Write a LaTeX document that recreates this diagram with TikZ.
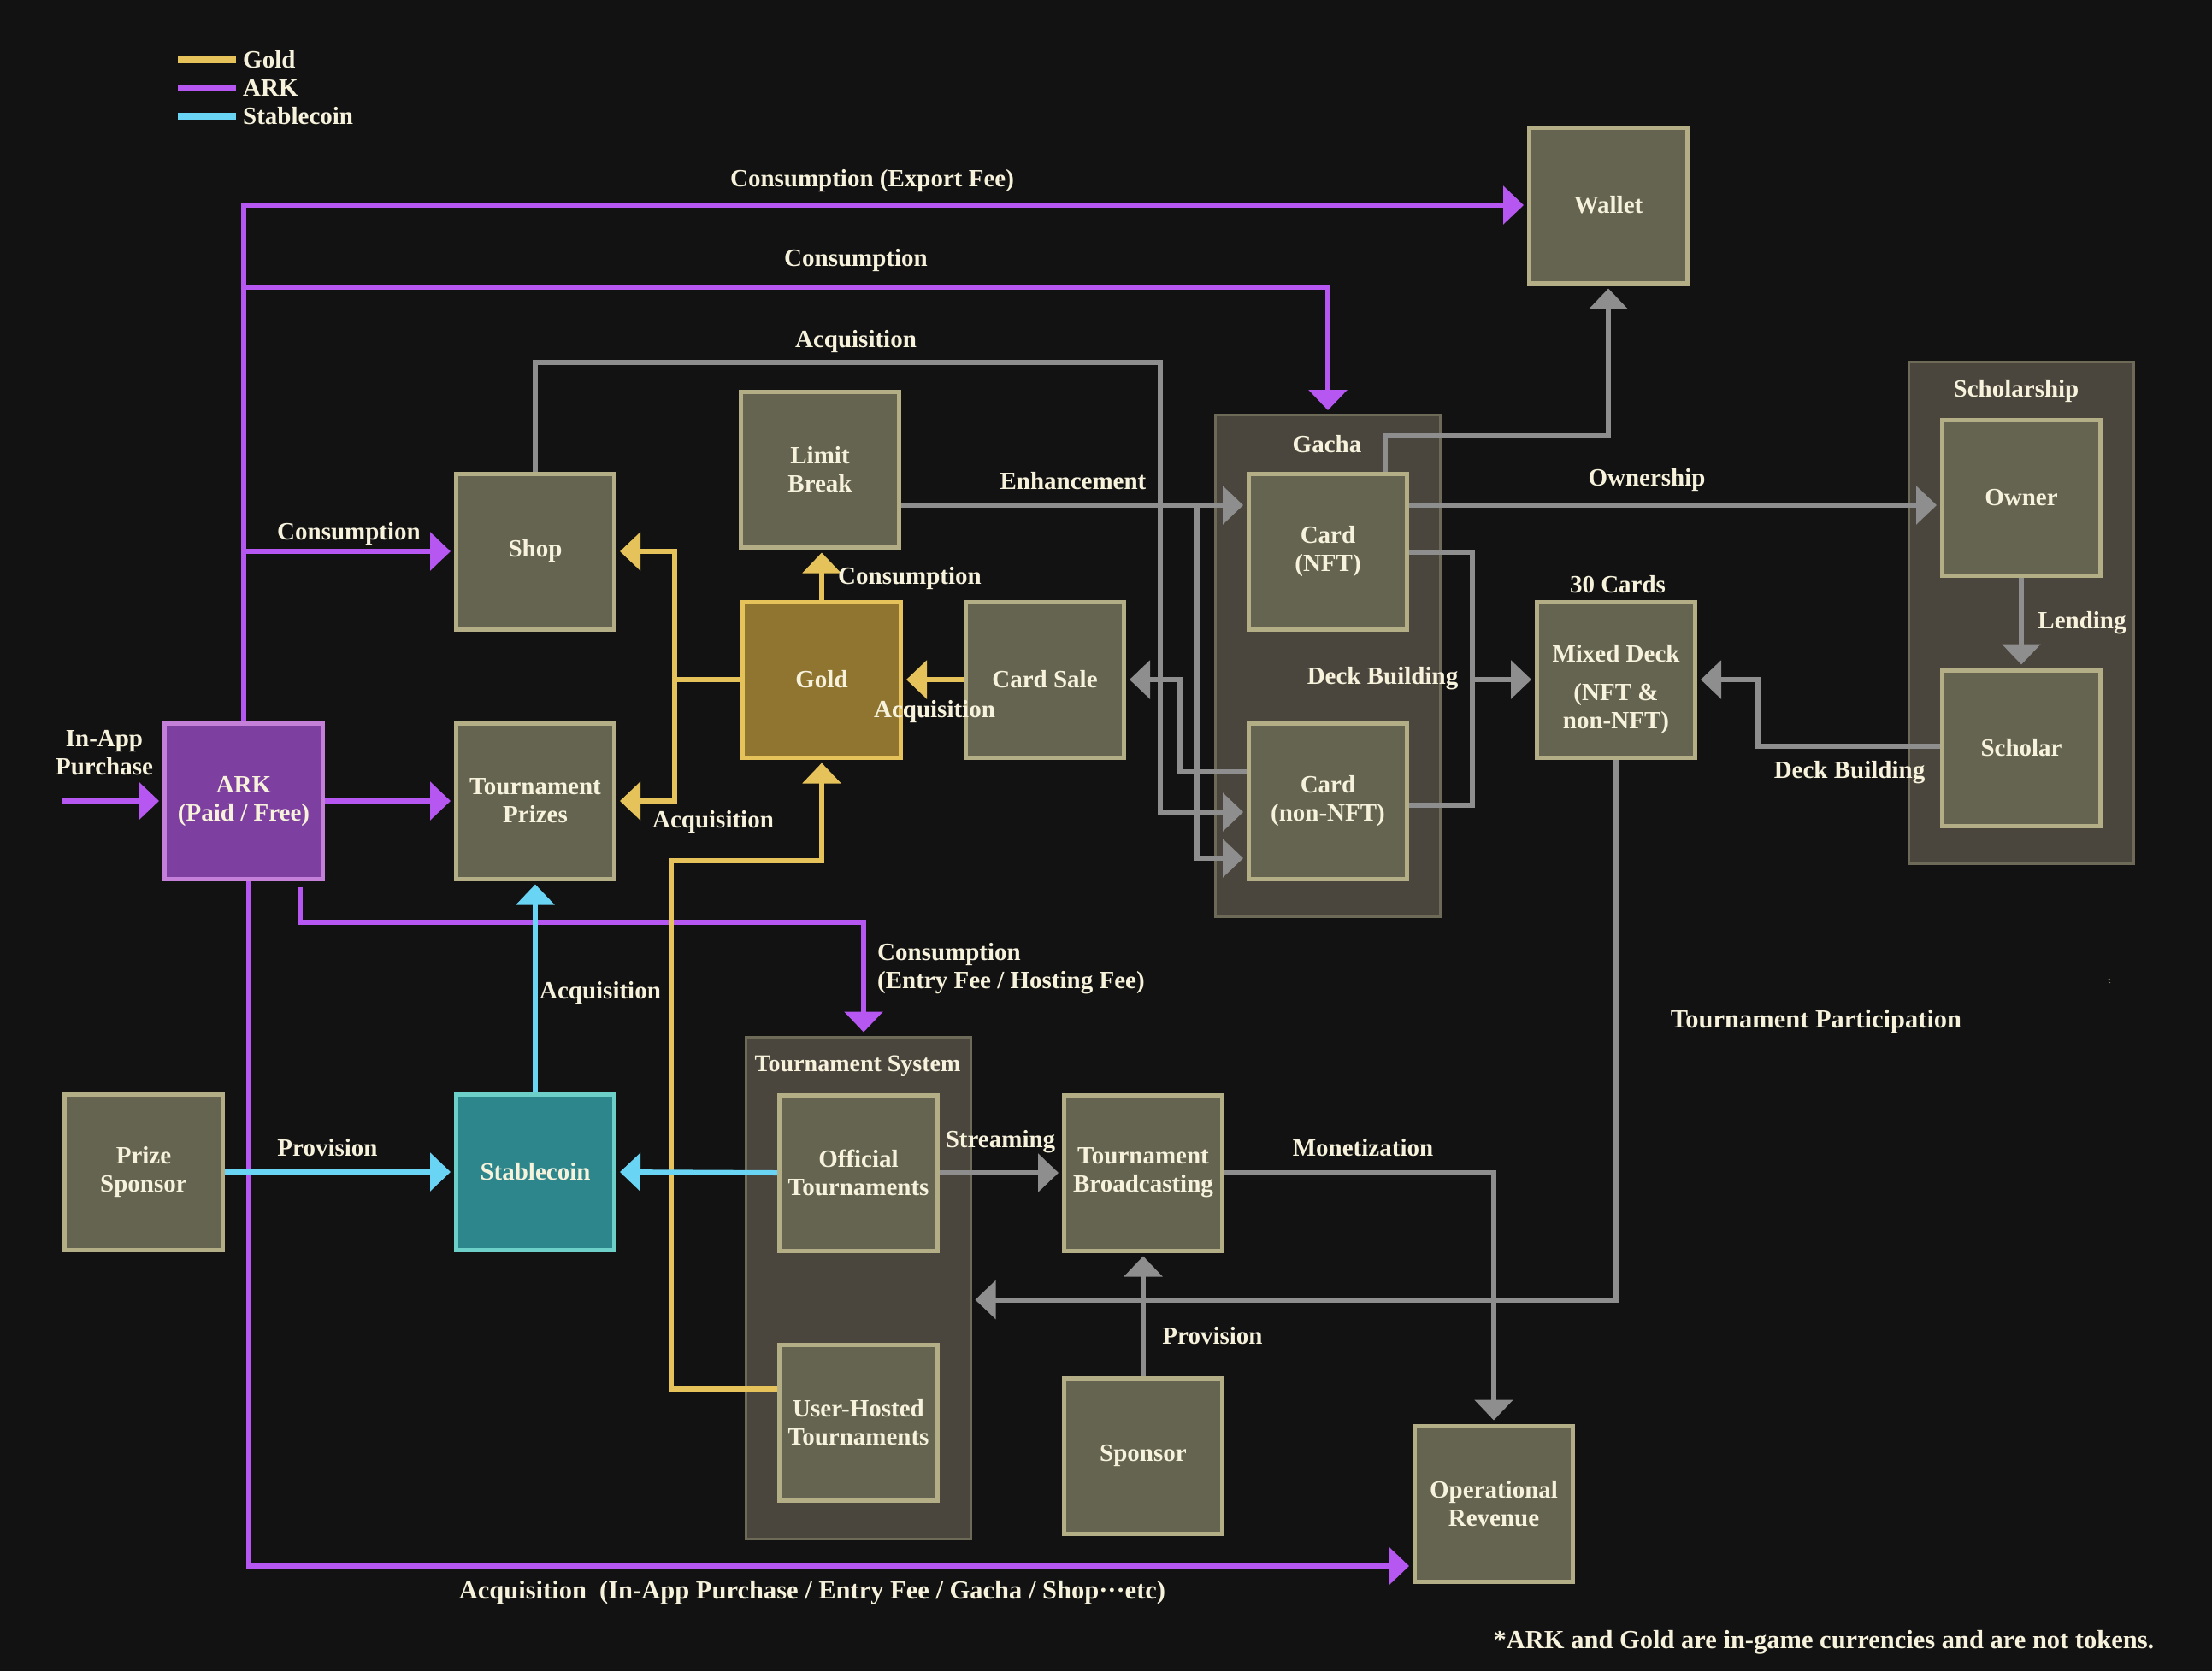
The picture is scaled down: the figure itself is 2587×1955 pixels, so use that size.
\documentclass[tikz,border=0pt]{standalone}
\usepackage{fontspec}
\setmainfont{Liberation Serif}
\usetikzlibrary{arrows.meta}
\definecolor{bg}{HTML}{121212}
\definecolor{pur}{HTML}{B657F2}
\definecolor{gld}{HTML}{E6C35A}
\definecolor{blu}{HTML}{6AD4F5}
\definecolor{gry}{HTML}{8E8E8E}
\definecolor{boxfill}{HTML}{646450}
\definecolor{boxline}{HTML}{B3AE86}
\definecolor{contfill}{HTML}{4A463E}
\definecolor{contline}{HTML}{6E6A58}
\definecolor{txt}{HTML}{F7F2DC}
\definecolor{arkfill}{HTML}{7E40A0}
\definecolor{arkline}{HTML}{C480D8}
\definecolor{goldfill}{HTML}{8F7530}
\definecolor{stabfill}{HTML}{2C868C}
\definecolor{stabline}{HTML}{6CCFC8}
\begin{document}
\begin{tikzpicture}[x=1pt,y=-1pt,
  every node/.style={text=txt, font=\fontsize{29}{33}\selectfont\bfseries},
  box/.style={draw=boxline, fill=boxfill, line width=5pt, minimum width=185pt, minimum height=182pt, inner sep=0pt, align=center},
  arkbox/.style={draw=arkline, fill=arkfill},
  goldbox/.style={draw=gld, fill=goldfill},
  stabbox/.style={draw=stabline, fill=stabfill},
  cont/.style={draw=contline, fill=contfill, line width=3pt, minimum width=263pt, minimum height=587pt, inner sep=0pt},
  lbl/.style={inner sep=0pt, align=center},
  big/.style={font=\fontsize{30.5}{34}\selectfont\bfseries},
  link/.style={line width=6pt},
  tip/.style={-{Triangle[length=24pt,width=44pt]}, shorten >=4pt},
]
\fill[bg] (0,0) rectangle (2587,1955);
\useasboundingbox (0,0) rectangle (2587,1955);

% legend
\draw[gld, line width=8pt] (208,70) -- (276,70);
\draw[pur, line width=8pt] (208,103) -- (276,103);
\draw[blu, line width=8pt] (208,136) -- (276,136);
\node[lbl, anchor=west] (lgold) at (284,70) {Gold};
\node[lbl, anchor=west] (lark) at (284,103) {ARK};
\node[lbl, anchor=west] (lstab) at (284,136) {Stablecoin};

% containers
\node[cont] (gacha) at (1553,779) {};
\node[cont] (scholarship) at (2363.5,716.5) {};
\node[cont] (tsystem) at (1003.5,1506.5) {};
\node[lbl] (tgacha) at (1552,520) {Gacha};
\node[lbl] (tschol) at (2358,458) {Scholarship};
\node[lbl, font=\fontsize{28}{32}\selectfont\bfseries] (ttsys) at (1003,1247) {Tournament System};

% boxes
\node[box] (wallet) at (1881,240) {Wallet};
\node[box] (limit) at (959,549) {Limit\\Break};
\node[box] (shop) at (626,645) {Shop};
\node[box, goldbox] (gold) at (961,795) {Gold};
\node[box] (cardsale) at (1222,795) {Card Sale};
\node[box] (prizes) at (626,937) {Tournament\\Prizes};
\node[box, arkbox] (ark) at (285,937) {ARK\\(Paid / Free)};
\node[box] (cardnft) at (1553,645) {Card\\(NFT)};
\node[box] (cardnon) at (1553,937) {Card\\(non-NFT)};
\node[box] (mixed) at (1890,795) {};
\node[lbl] (mixedtxt) at (1890,807) {Mixed Deck\\[12pt](NFT \&\\non-NFT)};
\node[box] (owner) at (2364,582) {Owner};
\node[box] (scholar) at (2364,875) {Scholar};
\node[box] (psponsor) at (168,1371) {Prize\\Sponsor};
\node[box, stabbox] (stable) at (626,1371) {Stablecoin};
\node[box] (official) at (1004,1372) {Official\\Tournaments};
\node[box] (userhosted) at (1004,1664) {User-Hosted\\Tournaments};
\node[box] (broadcast) at (1337,1372) {Tournament\\Broadcasting};
\node[box] (sponsor) at (1337,1703) {Sponsor};
\node[box] (oprev) at (1747,1759) {Operational\\Revenue};

% purple connectors
\coordinate (iap) at (73,937);
\draw[link, pur, tip] (ark.north) |- (wallet.west);
\draw[link, pur, tip] (ark.north) |- (1553,336) -- (gacha.north);
\draw[link, pur, tip] (ark.north) |- (shop.west);
\draw[link, pur, tip] (ark.east) -- (prizes.west);
\draw[link, pur, tip] (iap) -- (ark.west);
\draw[link, pur, tip] ([xshift=66pt,yshift=-7pt]ark.south) |- (1010,1079) -- ([xshift=6.5pt]tsystem.north);
\draw[link, pur, tip] ([xshift=6pt]ark.south) |- ([yshift=-73pt]oprev.west);

% gray connectors
\coordinate (enhbr) at (1400,591);
\coordinate (deckbr) at (1722,795);
\draw[link, gry, tip] (shop.north) |- (1357,424) |- ([yshift=-13pt]cardnon.west);
\draw[link, gry, tip] ([yshift=-42pt]limit.east) -- ([yshift=54pt]cardnft.west);
\draw[link, gry, tip] (enhbr) |- ([yshift=-67pt]cardnon.west);
\draw[link, gry, tip] ([yshift=34pt]cardnon.west) -| (1380,795) -- (cardsale.east);
\draw[link, gry, tip] ([xshift=67pt]cardnft.north) -- (1620,509) -| (wallet.south);
\draw[link, gry, tip] ([yshift=54pt]cardnft.east) -- ([yshift=-9pt]owner.west);
\draw[link, gry] ([yshift=-1pt]cardnft.east) -| (1722,942) -- ([yshift=-5pt]cardnon.east);
\draw[link, gry, tip] (deckbr) -- (mixed.west);
\draw[link, gry, tip] (owner.south) -- (scholar.north);
\draw[link, gry, tip] ([yshift=2pt]scholar.west) -| (2056,795) -- (mixed.east);
\draw[link, gry, tip] (mixed.south) |- ([yshift=-14pt]tsystem.east);
\draw[link, gry, tip] (official.east) -- (broadcast.west);
\draw[link, gry, tip] (broadcast.east) -| (oprev.north);
\draw[link, gry, tip] (sponsor.north) -- (broadcast.south);

% gold connectors
\coordinate (goldbr) at (789,795);
\draw[link, gld, tip] (gold.north) -- (gold.north |- limit.south);
\draw[link, gld, tip] (cardsale.west) -- (gold.east);
\draw[link, gld] (gold.west) -- (goldbr);
\draw[link, gld, tip] (goldbr) |- (shop.east);
\draw[link, gld, tip] (goldbr) |- (prizes.east);
\draw[link, gld, tip] ([yshift=39pt]userhosted.west) -| (785,1007) -| (gold.south);

% blue connectors
\draw[link, blu, tip] (official.west) -- (stable.east);
\draw[link, blu, tip] (psponsor.east) -- (stable.west);
\draw[link, blu, tip] (stable.north) -- (prizes.south);

% labels
\node[lbl] (l1) at (1020,212) {Consumption (Export Fee)};
\node[lbl] (l2) at (1001,305) {Consumption};
\node[lbl] (l3) at (1001,400) {Acquisition};
\node[lbl] (l4) at (408,625) {Consumption};
\node[lbl] (l5) at (1255,563) {Enhancement};
\node[lbl] (l6) at (1926,562) {Ownership};
\node[lbl, anchor=west] (l7) at (980,677) {Consumption};
\node[lbl] (l8) at (1093,833) {Acquisition};
\node[lbl] (l9) at (834,962) {Acquisition};
\node[lbl] (l10) at (1617,794) {Deck Building};
\node[lbl] (l11) at (1892,684) {30 Cards};
\node[lbl] (l12) at (2435,729) {Lending};
\node[lbl] (l13) at (2163,904) {Deck Building};
\node[lbl] (l14) at (122,881) {In-App\\Purchase};
\node[lbl] (l15) at (702,1162) {Acquisition};
\node[lbl, anchor=west, align=left] (l16) at (1026,1133) {Consumption\\(Entry Fee / Hosting Fee)};
\node[lbl, big] (l17) at (2124,1195) {Tournament Participation};
\node[lbl, font=\fontsize{10}{12}\selectfont] (l18) at (2467,1148) {t};
\node[lbl] (l19) at (383,1343) {Provision};
\node[lbl] (l20) at (1170,1336) {Streaming};
\node[lbl] (l21) at (1594,1343) {Monetization};
\node[lbl] (l22) at (1418,1563) {Provision};
\node[lbl, big] (l23) at (950,1863) {Acquisition\enspace(In-App Purchase / Entry Fee / Gacha / Shop···etc)};
\node[lbl, big] (l24) at (2133,1921) {*ARK and Gold are in-game currencies and are not tokens.};
\end{tikzpicture}
\end{document}
